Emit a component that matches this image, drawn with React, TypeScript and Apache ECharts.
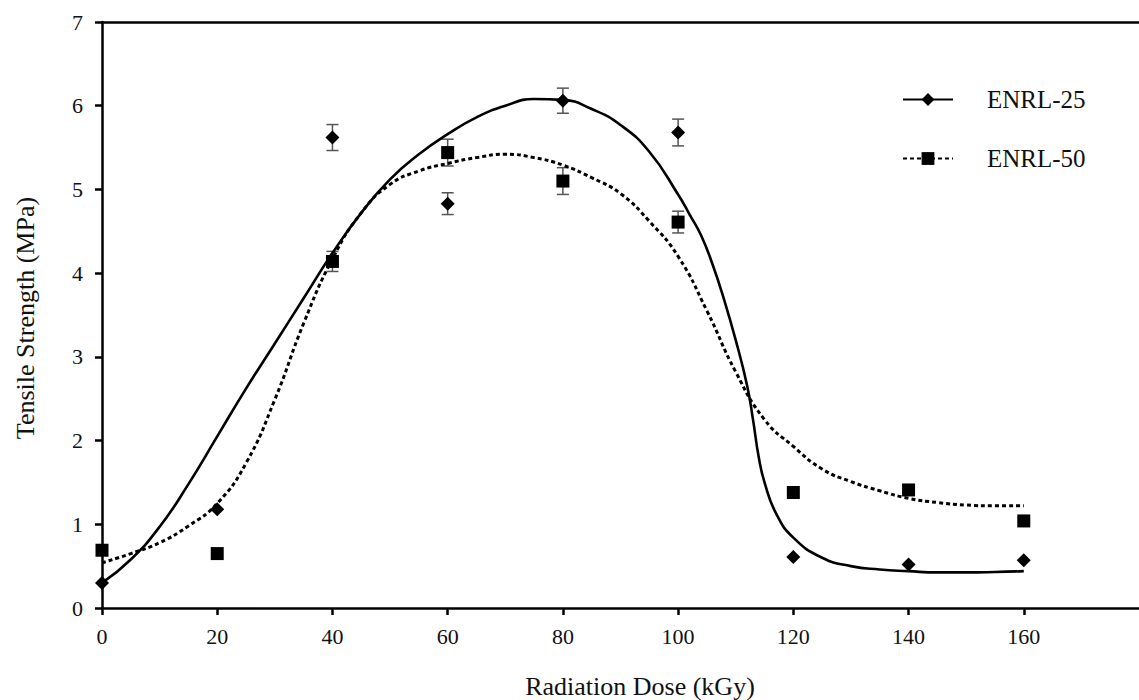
import React, { useEffect, useRef } from "react";
import * as echarts from "echarts";

const doses = [0, 20, 40, 60, 80, 100, 120, 140, 160];
const ts25 = [0.3, 1.18, 5.62, 4.83, 6.06, 5.68, 0.61, 0.52, 0.57];
const ts50 = [0.69, 0.65, 4.14, 5.44, 5.1, 4.61, 1.38, 1.41, 1.04];
const err25 = [0, 0, 0.155, 0.13, 0.15, 0.16, 0, 0, 0];
const err50 = [0, 0, 0.12, 0.16, 0.16, 0.13, 0, 0, 0];

// trend curves
const fitX25 = [0, 5, 10, 15, 20, 25, 30, 35, 40, 45, 50, 55, 60, 65, 70, 75, 80, 85, 90, 95, 100, 102, 104, 106, 108, 110, 112, 113, 114, 115, 117, 120, 125, 130, 135, 140, 145, 150, 155, 160];
const fitY25 = [0.3, 0.58, 0.97, 1.48, 2.05, 2.62, 3.16, 3.7, 4.24, 4.72, 5.12, 5.42, 5.66, 5.86, 6.0, 6.08, 6.07, 5.96, 5.77, 5.45, 4.94, 4.7, 4.45, 4.1, 3.68, 3.2, 2.65, 2.25, 1.8, 1.5, 1.13, 0.84, 0.6, 0.5, 0.46, 0.44, 0.425, 0.425, 0.43, 0.44];
const fitX50 = [0, 5, 10, 15, 20, 25, 30, 35, 40, 45, 50, 55, 60, 65, 70, 75, 80, 85, 90, 95, 100, 105, 110, 115, 120, 125, 130, 135, 140, 145, 150, 155, 160];
const fitY50 = [0.54, 0.65, 0.78, 0.98, 1.25, 1.73, 2.49, 3.4, 4.17, 4.72, 5.06, 5.22, 5.31, 5.38, 5.42, 5.38, 5.29, 5.14, 4.95, 4.62, 4.2, 3.55, 2.82, 2.25, 1.93, 1.66, 1.51, 1.4, 1.31, 1.26, 1.23, 1.22, 1.22];

const xTicks = [0, 20, 40, 60, 80, 100, 120, 140, 160];
const yTicks = [0, 1, 2, 3, 4, 5, 6, 7];

const FONT = "'Liberation Serif', 'Times New Roman', 'DejaVu Serif', serif";

export default function App() {
  const ref = useRef<HTMLDivElement>(null);
  useEffect(() => {
    if (!ref.current) return;
    const chart = echarts.init(ref.current, null, { renderer: "svg" });
    const pairs = (xs: number[], ys: number[]) => xs.map((x, i) => [x, ys[i]]);
    const errData = (vals: number[], errs: number[]) =>
      doses
        .map((d, i) => [d, vals[i] - errs[i], vals[i] + errs[i]])
        .filter((_, i) => errs[i] > 0);
    const renderErr = (params: any, api: any) => {
      const x = api.value(0);
      const lo = api.coord([x, api.value(1)]);
      const hi = api.coord([x, api.value(2)]);
      const style = { stroke: "#555", lineWidth: 1.5 };
      const cap = 6;
      return {
        type: "group",
        children: [
          { type: "line", shape: { x1: lo[0], y1: lo[1], x2: hi[0], y2: hi[1] }, style },
          { type: "line", shape: { x1: lo[0] - cap, y1: lo[1], x2: lo[0] + cap, y2: lo[1] }, style },
          { type: "line", shape: { x1: hi[0] - cap, y1: hi[1], x2: hi[0] + cap, y2: hi[1] }, style },
        ],
      };
    };
    const axisLineStyle = { color: "#000", width: 2.5 };
    chart.setOption({
      animation: false,
      backgroundColor: "#fff",
      grid: { left: 102, top: 22, bottom: 92, right: -11, containLabel: false },
      xAxis: [
        {
          type: "value",
          min: 0,
          max: 180,
          interval: 20,
          splitLine: { show: false },
          axisLine: { show: true, lineStyle: axisLineStyle },
          axisTick: { show: true, length: 7, inside: false, lineStyle: axisLineStyle },
          axisLabel: {
            showMaxLabel: false,
            margin: 17,
            fontSize: 22,
            fontFamily: FONT,
            color: "#111",
            formatter: (v: number) => (xTicks.includes(v) ? String(v) : ""),
          },
        },
        {
          type: "value",
          position: "top",
          min: 0,
          max: 180,
          axisLine: { show: true, onZero: false, lineStyle: axisLineStyle },
          axisTick: { show: false },
          axisLabel: { show: false },
          splitLine: { show: false },
        },
      ],
      yAxis: {
        type: "value",
        min: 0,
        max: 7,
        interval: 1,
        splitLine: { show: false },
        axisLine: { show: true, lineStyle: axisLineStyle },
        axisTick: { show: true, length: 7, lineStyle: axisLineStyle },
        axisLabel: {
          margin: 19,
          fontSize: 22,
          fontFamily: FONT,
          color: "#111",
          formatter: (v: number) => (yTicks.includes(v) ? String(v) : ""),
        },
      },
      legend: {
        orient: "vertical",
        left: 902,
        top: 87,
        padding: 0,
        itemWidth: 50,
        itemHeight: 16,
        itemGap: 34,
        data: ["ENRL-25", "ENRL-50"],
        textStyle: { fontSize: 25, fontFamily: FONT, color: "#111", padding: [0, 0, 0, 29] },
      },
      graphic: [
        {
          type: "text",
          x: 640,
          y: 686,
          style: { text: "Radiation Dose (kGy)", fontSize: 26, fontFamily: FONT, fill: "#111", align: "center", verticalAlign: "middle" },
        },
        {
          type: "text",
          x: 25,
          y: 318,
          rotation: Math.PI / 2,
          style: { text: "Tensile Strength (MPa)", fontSize: 26, fontFamily: FONT, fill: "#111", align: "center", verticalAlign: "middle" },
        },
      ],
      series: [
        {
          name: "ENRL-25",
          type: "line",
          data: pairs(fitX25, fitY25),
          smooth: true,
          showSymbol: false,
          symbol: "diamond",
          color: "#000",
          lineStyle: { color: "#000", width: 2.6 },
          z: 3,
        },
        {
          name: "ENRL-50",
          type: "line",
          data: pairs(fitX50, fitY50),
          smooth: true,
          showSymbol: false,
          symbol: "rect",
          color: "#000",
          lineStyle: { color: "#000", width: 3, type: [4, 3] },
          z: 3,
        },
        {
          type: "custom",
          renderItem: renderErr,
          data: errData(ts25, err25),
          z: 2,
          silent: true,
        },
        {
          type: "custom",
          renderItem: renderErr,
          data: errData(ts50, err50),
          z: 2,
          silent: true,
        },
        {
          type: "scatter",
          data: pairs(doses, ts25),
          symbol: "diamond",
          symbolSize: 14,
          itemStyle: { color: "#000", opacity: 1 },
          z: 4,
        },
        {
          type: "scatter",
          data: pairs(doses, ts50),
          symbol: "rect",
          symbolSize: 13,
          itemStyle: { color: "#000", opacity: 1 },
          z: 4,
        },
      ],
    });
    return () => chart.dispose();
  }, []);
  return (
    <div
      ref={ref}
      style={{ position: "fixed", left: 0, top: 0, width: 1139, height: 700, background: "#fff" }}
    />
  );
}
